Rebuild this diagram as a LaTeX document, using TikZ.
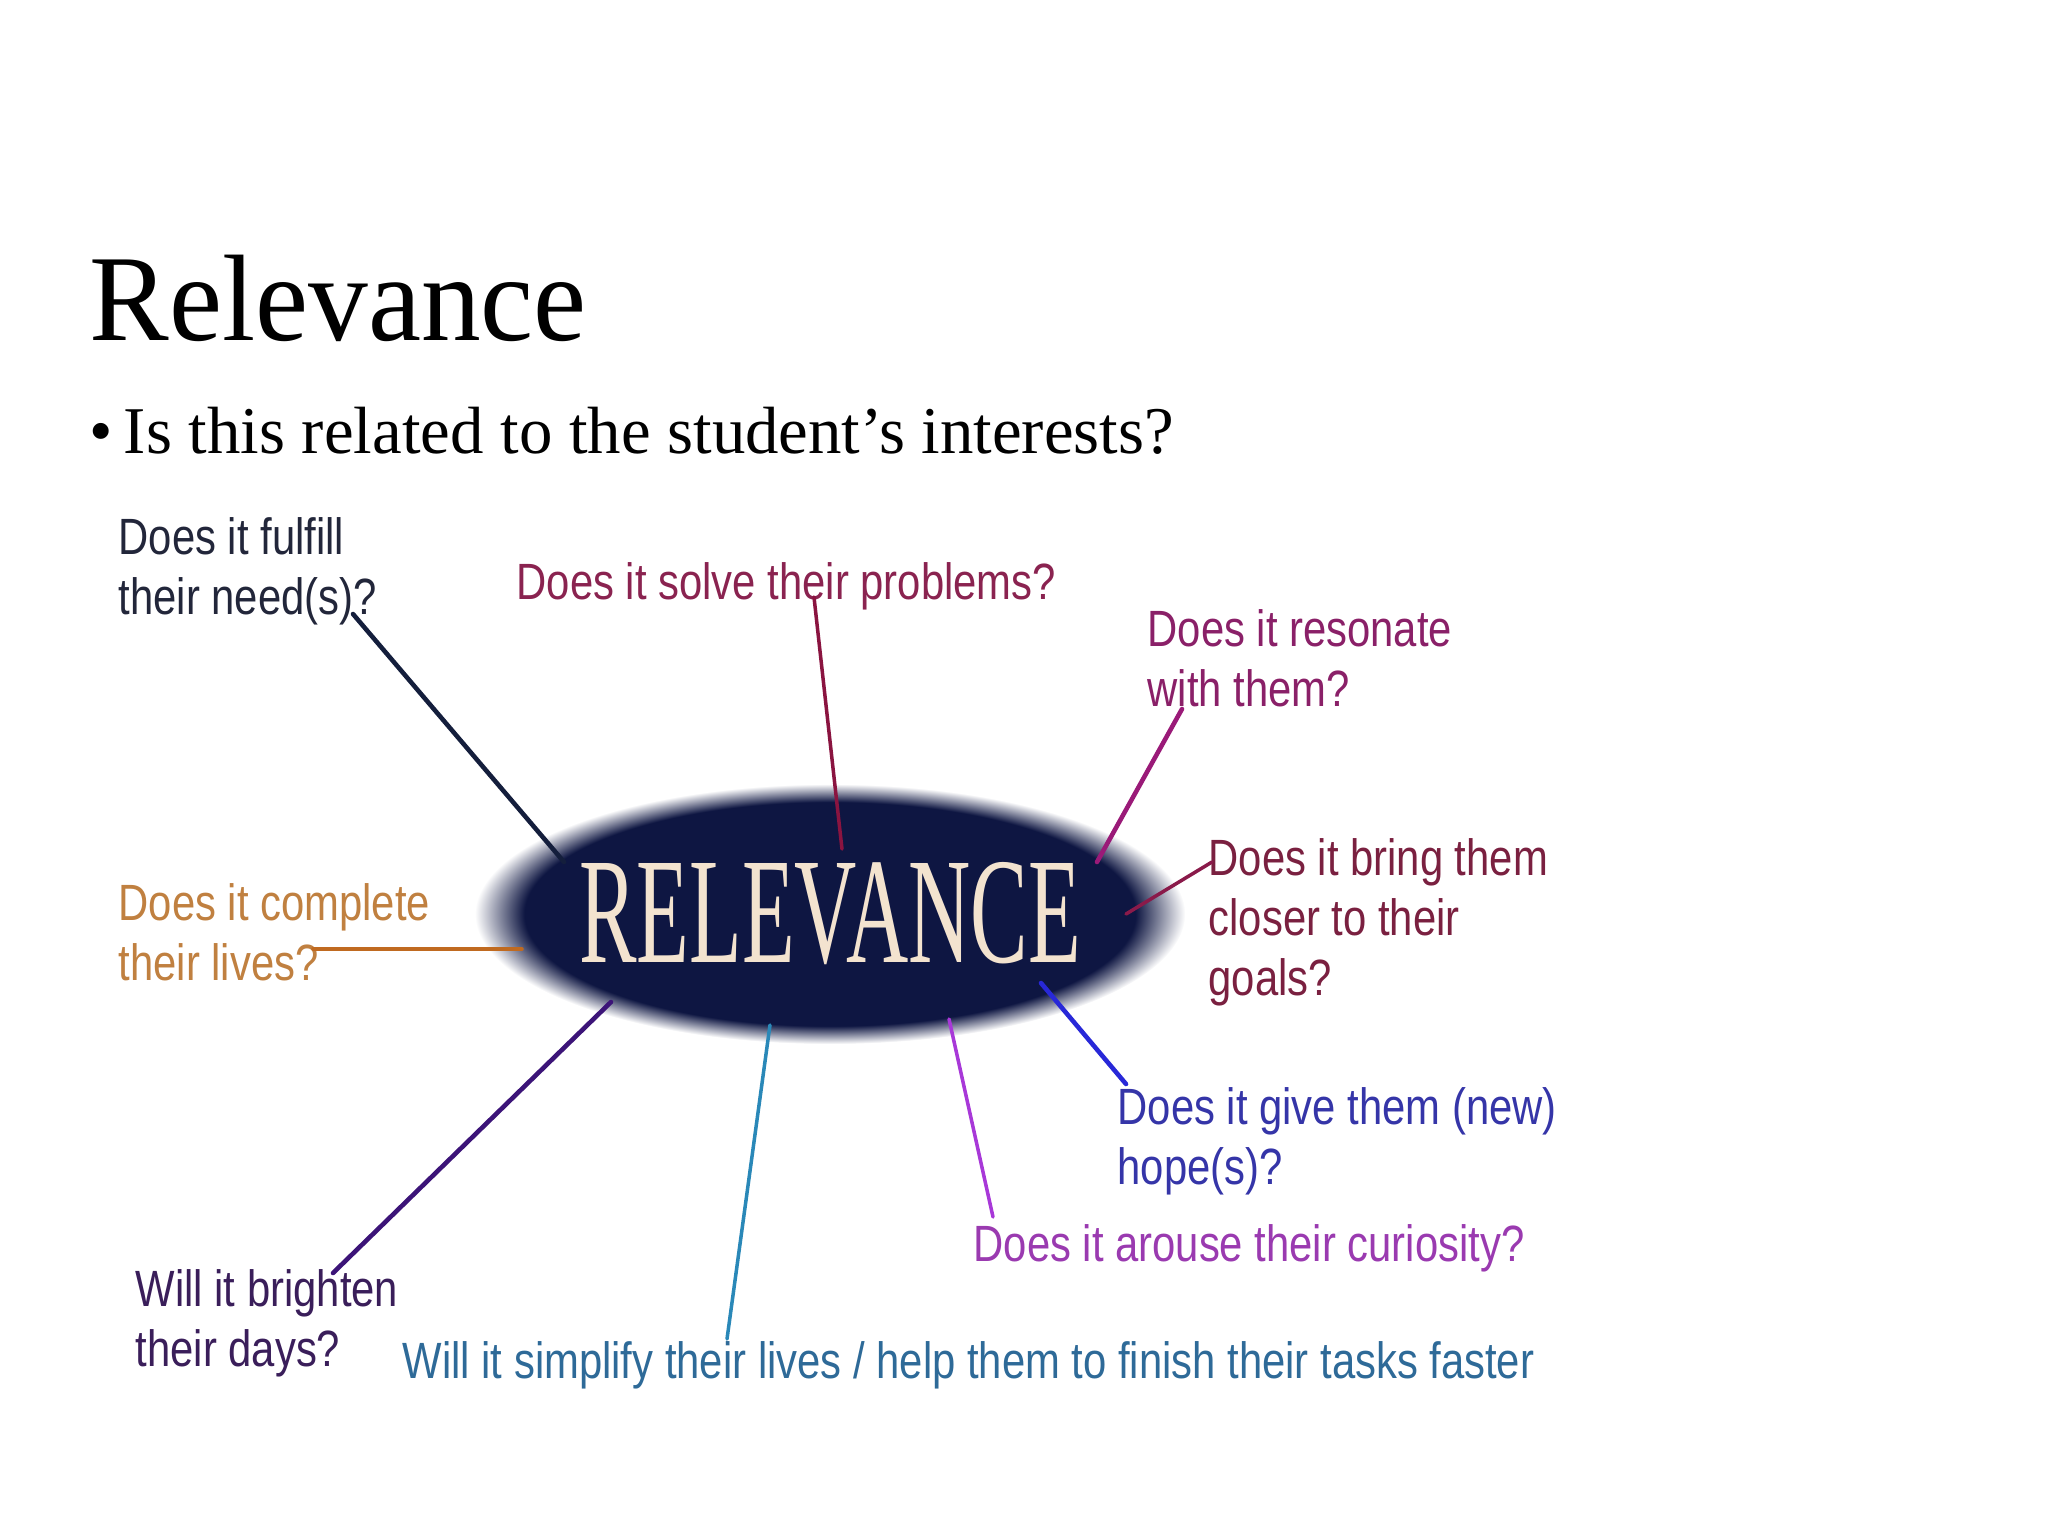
\documentclass[tikz,border=0pt]{standalone}
\usepackage{fontspec}
\setmainfont{Liberation Serif}
\newfontfamily\titlefont[FakeStretch=0.97]{Liberation Serif}
\newfontfamily\qfont[FakeStretch=0.82]{Liberation Sans}
\newfontfamily\decofont[FakeStretch=0.57]{Liberation Serif}
\usepackage{xcolor}
\usetikzlibrary{shapes.geometric}
\definecolor{relnavy}{HTML}{0E1642}
\definecolor{relcream}{HTML}{F3E3CF}
\definecolor{cfulfill}{HTML}{22263A}
\definecolor{lfulfill}{HTML}{141E3C}
\definecolor{csolve}{HTML}{8A2350}
\definecolor{lsolve}{HTML}{8A1440}
\definecolor{creson}{HTML}{8A2068}
\definecolor{lreson}{HTML}{9A1A78}
\definecolor{cbring}{HTML}{7A2040}
\definecolor{lbring}{HTML}{8A1A4A}
\definecolor{ccomplete}{HTML}{C08040}
\definecolor{lcomplete}{HTML}{C06A20}
\definecolor{chope}{HTML}{3535A8}
\definecolor{lhope}{HTML}{2828D8}
\definecolor{carouse}{HTML}{9A3AB0}
\definecolor{larouse}{HTML}{A838D8}
\definecolor{cbright}{HTML}{3A1E5A}
\definecolor{lbright}{HTML}{3C1478}
\definecolor{csimple}{HTML}{2E6A98}
\definecolor{lsimple}{HTML}{2A88B8}
\pgfdeclareradialshading{relglow}{\pgfpoint{0bp}{0bp}}{color(0bp)=(relnavy); color(21.5bp)=(relnavy); color(25bp)=(white); color(50bp)=(white)}

\begin{document}
\begin{tikzpicture}[
  x=0.01cm, y=-0.01cm,
  qtext/.style={font=\qfont\fontsize{14.5}{17}\selectfont, anchor=north west,
                inner sep=0pt, align=left},
  spoke/.style={line width=1pt, line cap=round},
  thick spoke/.style={line width=1.3pt, line cap=round}
]
\useasboundingbox (0,0) rectangle (2048,1536);
\node[anchor=base west, inner sep=0pt, font=\titlefont\fontsize{35}{40}\selectfont] (title) at (89,340) {Relevance};
\node[anchor=base west, inner sep=0pt, font=\fontsize{19}{23}\selectfont] (bullet) at (89,453) {\textbullet\hspace{0.16em}Is this related to the student’s interests?};
\node[ellipse, shade, shading=relglow, minimum width=7.1cm, minimum height=2.6cm, inner sep=0pt,
      text=relcream, font=\decofont\fontsize{43}{43}\selectfont] (rel) at (830,914) {RELEVANCE};
\node[qtext, text=cfulfill] (fulfill) at (118,517) {Does it fulfill\\their need(s)?};
\node[qtext, text=csolve] (solve) at (516,562) {Does it solve their problems?};
\node[qtext, text=creson] (resonate) at (1147,609) {Does it resonate\\with them?};
\node[qtext, text=cbring] (bring) at (1208,838) {Does it bring them\\closer to their\\goals?};
\node[qtext, text=ccomplete] (complete) at (118,883) {Does it complete\\their lives?};
\node[qtext, text=chope] (hope) at (1117,1087) {Does it give them (new)\\hope(s)?};
\node[qtext, text=carouse] (arouse) at (973,1224) {Does it arouse their curiosity?};
\node[qtext, text=cbright] (brighten) at (135,1269) {Will it brighten\\their days?};
\node[qtext, text=csimple] (simplify) at (402,1341) {Will it simplify their lives / help them to finish their tasks faster};
\coordinate (fulfill-end) at (353,614);
\coordinate (fulfill-root) at (564,862);
\coordinate (solve-end) at (814,597);
\coordinate (solve-root) at (842,849);
\coordinate (resonate-end) at (1182,709);
\coordinate (resonate-root) at (1097,862);
\coordinate (bring-end) at (1212,862);
\coordinate (bring-root) at (1126,914);
\coordinate (complete-end) at (313,949);
\coordinate (complete-root) at (522,949);
\coordinate (hope-end) at (1126,1084);
\coordinate (hope-root) at (1041,983);
\coordinate (arouse-end) at (993,1217);
\coordinate (arouse-root) at (949,1019);
\coordinate (brighten-end) at (333,1273);
\coordinate (brighten-root) at (611,1002);
\coordinate (simplify-end) at (727,1339);
\coordinate (simplify-root) at (770,1025);
\draw[thick spoke, lfulfill] (fulfill-end) -- (fulfill-root);
\draw[spoke, lsolve] (solve-end) -- (solve-root);
\draw[thick spoke, lreson] (resonate-end) -- (resonate-root);
\draw[spoke, lbring] (bring-end) -- (bring-root);
\draw[spoke, lcomplete] (complete-end) -- (complete-root);
\draw[thick spoke, lhope] (hope-end) -- (hope-root);
\draw[spoke, larouse] (arouse-end) -- (arouse-root);
\draw[thick spoke, lbright] (brighten-end) -- (brighten-root);
\draw[spoke, lsimple] (simplify-end) -- (simplify-root);
\end{tikzpicture}
\end{document}
